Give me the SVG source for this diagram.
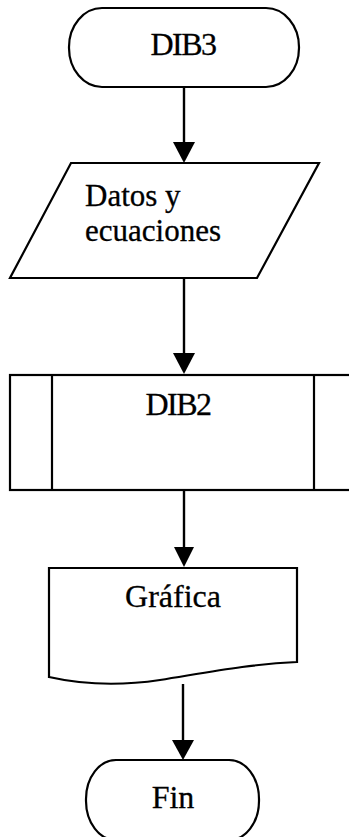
<svg xmlns="http://www.w3.org/2000/svg" width="349" height="837" viewBox="0 0 349 837">
<style>
.s{fill:#fff;stroke:#000;stroke-width:2.2}
.t{font-family:"Liberation Serif","Times New Roman",serif;font-size:32px;fill:#000;stroke:#000;stroke-width:0.3}
.d{font-size:31px}
.c{stroke:#000;stroke-width:2.4;fill:none}
.h{fill:#000}
</style>
<rect width="349" height="837" fill="#fff"/>
<g id="dib3">
<rect class="s" x="69" y="8" width="230" height="79" rx="33" ry="39"/>
<text class="t" x="183" y="55" text-anchor="middle" letter-spacing="-1.5">DIB3</text>
</g>
<g id="datos">
<polygon class="s" points="71,163 319,163 257,278 10,278"/>
<text class="t d" x="85" y="206">Datos y</text>
<text class="t d" x="85" y="241">ecuaciones</text>
</g>
<g id="dib2">
<rect class="s" x="10" y="375" width="345" height="115"/>
<line class="s" x1="52" y1="375" x2="52" y2="490"/>
<line class="s" x1="314" y1="375" x2="314" y2="490"/>
<text class="t" x="178" y="415" text-anchor="middle" letter-spacing="-1.5">DIB2</text>
</g>
<g id="grafica">
<path class="s" d="M49,568 L297,568 L297,662 C250,664 210,672 160,680 C120,686 80,684 49,677 Z"/>
<text class="t" x="173" y="607" text-anchor="middle">Gráfica</text>
</g>
<g id="fin">
<rect class="s" x="86" y="760" width="173" height="80" rx="30" ry="39"/>
<text class="t" x="173" y="808" text-anchor="middle">Fin</text>
</g>
<g id="connectors">
<line class="c" x1="184" y1="87" x2="184" y2="145"/>
<polygon class="h" points="173,142 195,142 184,163"/>
<line class="c" x1="184" y1="278" x2="184" y2="356"/>
<polygon class="h" points="173,353 195,353 184,374"/>
<line class="c" x1="184" y1="490" x2="184" y2="550"/>
<polygon class="h" points="174,547 194,547 184,567"/>
<line class="c" x1="183" y1="684" x2="183" y2="743"/>
<polygon class="h" points="172,740 194,740 183,760"/>
</g>
</svg>
